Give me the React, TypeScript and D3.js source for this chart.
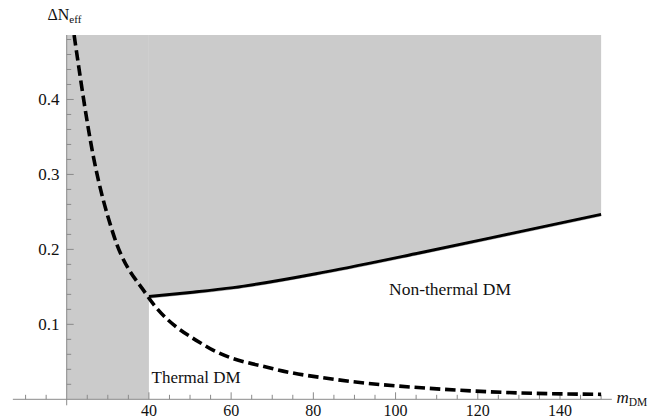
import React from "react";
import * as d3 from "d3";

const thermalM = [21.8, 26.5, 31.3, 39.5, 54, 70, 86, 108, 126, 150];
const thermalV = [0.486, 0.3235, 0.221, 0.139, 0.0705, 0.041, 0.026, 0.0147, 0.0093, 0.0066];
const boundM = [40, 50, 60.5, 83, 106, 128, 150];
const boundV = [0.137, 0.1425, 0.149, 0.170, 0.1955, 0.221, 0.2467];
const xMajor = [40, 60, 80, 100, 120, 140];
const yMajor = [0.1, 0.2, 0.3, 0.4];
const yLabels = ["0.1", "0.2", "0.3", "0.4"];

const W = 659, H = 420;
const xDomain = [6.9, 152.6];
const yDomain = [-0.008, 0.486];

export default function App() {
  const x = d3.scaleLinear().domain(xDomain).range([12.85, 611.8]);
  const y = d3.scaleLinear().domain(yDomain).range([405.3, 35]);
  const yTop = yDomain[1];
  const axisX = 20;

  const thermal = thermalM.map((m, i) => [m, thermalV[i]] as [number, number]);
  const bound = boundM.map((m, i) => [m, boundV[i]] as [number, number]);

  const line = d3
    .line<[number, number]>()
    .x((d) => x(d[0]))
    .y((d) => y(d[1]))
    .curve(d3.curveMonotoneX);
  const area = d3
    .area<[number, number]>()
    .x((d) => x(d[0]))
    .y0(() => y(yTop))
    .y1((d) => y(d[1]))
    .curve(d3.curveMonotoneX);

  const xMinor = d3.range(10, 151, 5).filter((v) => v !== 20 && !xMajor.includes(v));
  const yMinor = d3.range(0.02, 0.481, 0.02).filter((v) => !yMajor.some((t) => Math.abs(t - v) < 1e-6));
  const axisColor = "#8a8a8a";
  const font = "'Liberation Serif', 'DejaVu Serif', serif";

  return (
    <svg width={W} height={H} style={{ position: "absolute", left: 0, top: 0, background: "#fff" }} fontFamily={font}>
      <defs>
        <clipPath id="plot">
          <rect x={x(xDomain[0])} y={y(yTop)} width={x(xDomain[1]) - x(xDomain[0])} height={y(yDomain[0]) - y(yTop)} />
        </clipPath>
      </defs>
      {/* shaded excluded region */}
      <rect x={x(axisX)} y={y(yTop)} width={x(40) - x(axisX)} height={y(0) - y(yTop)} fill="#cbcbcb" />
      <path d={area(bound) || ""} fill="#cbcbcb" />
      <path d={line(bound) || ""} fill="none" stroke="#b0b0b0" strokeWidth={1} transform="translate(0,1.5)" />

      {/* axes */}
      <line x1={x(xDomain[0])} x2={x(xDomain[1])} y1={y(0)} y2={y(0)} stroke={axisColor} strokeWidth={1} />
      <line x1={x(axisX)} x2={x(axisX)} y1={y(yTop)} y2={y(yDomain[0])} stroke={axisColor} strokeWidth={1} />
      {xMajor.map((t) => (
        <g key={"xm" + t}>
          <line x1={x(t)} x2={x(t)} y1={y(0)} y2={y(0) - 7} stroke={axisColor} />
          <text x={x(t)} y={416} textAnchor="middle" fontSize={16} fill="#111">{t}</text>
        </g>
      ))}
      {xMinor.map((t) => (
        <line key={"xn" + t} x1={x(t)} x2={x(t)} y1={y(0)} y2={y(0) - 4.5} stroke={axisColor} />
      ))}
      {yMajor.map((t, i) => (
        <g key={"ym" + t}>
          <line x1={x(axisX)} x2={x(axisX) + 7} y1={y(t)} y2={y(t)} stroke={axisColor} />
          <text x={59.5} y={y(t)} dy="0.35em" textAnchor="end" fontSize={17} fill="#111">{yLabels[i]}</text>
        </g>
      ))}
      {yMinor.map((t) => (
        <line key={"yn" + t} x1={x(axisX)} x2={x(axisX) + 4.5} y1={y(t)} y2={y(t)} stroke={axisColor} />
      ))}

      {/* curves */}
      <g clipPath="url(#plot)">
        <path d={line(bound) || ""} fill="none" stroke="#000" strokeWidth={3} />
        <path d={line(thermal) || ""} fill="none" stroke="#000" strokeWidth={3.6} strokeDasharray="10.5 4.8" />
      </g>

      {/* labels */}
      <text x={151.5} y={383} fontSize={17} fill="#111">Thermal DM</text>
      <text x={389} y={295} fontSize={17.5} fill="#111">Non-thermal DM</text>
      <text x={47.5} y={20} fontSize={16} fill="#111">
        ΔN<tspan fontSize={11} dy={3}>eff</tspan>
      </text>
      <text x={616.5} y={403} fontSize={17} fill="#111">
        <tspan fontStyle="italic">m</tspan>
        <tspan fontSize={11.5} dy={3}>DM</tspan>
      </text>
    </svg>
  );
}
